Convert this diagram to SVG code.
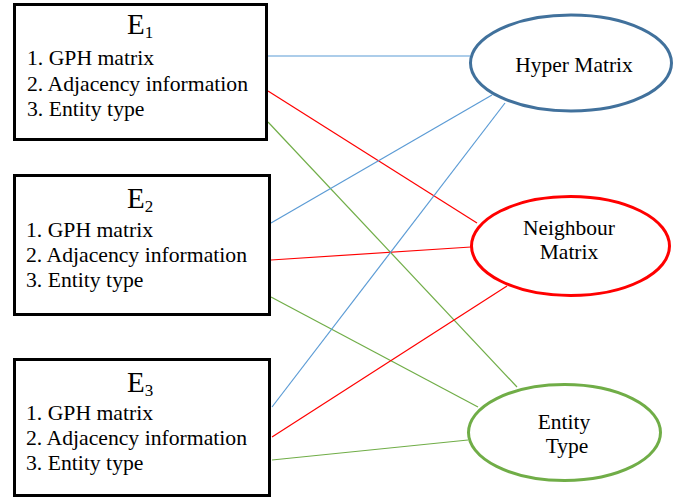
<svg xmlns="http://www.w3.org/2000/svg" width="675" height="501" viewBox="0 0 675 501">
<style>
.box{fill:#fff;stroke:#000;stroke-width:3}
.t{font-family:"Liberation Serif","Times New Roman",serif;fill:#000}
.title{font-size:29px}
.sub{font-size:17px}
.item{font-size:21.7px}
.lbl{font-size:21.5px;text-anchor:middle}
.ell{fill:#fff;stroke-width:3}
.c{fill:none;stroke-width:1.2}
.blue{stroke:#5B9BD5}
.red{stroke:#FF0000}
.green{stroke:#70AD47}
</style>
<rect width="675" height="501" fill="#fff"/>
<g id="connectors">
<line class="c blue" x1="268" y1="56" x2="470" y2="56"/>
<line class="c red" x1="268" y1="91" x2="477" y2="223"/>
<line class="c green" x1="268" y1="122" x2="517" y2="387"/>
<line class="c blue" x1="271" y1="223" x2="492" y2="95"/>
<line class="c red" x1="271" y1="260" x2="471" y2="247"/>
<line class="c green" x1="271" y1="297" x2="478" y2="407"/>
<line class="c blue" x1="272" y1="407" x2="505" y2="103"/>
<line class="c red" x1="272" y1="437" x2="507" y2="286"/>
<line class="c green" x1="272" y1="460" x2="468" y2="440"/>
</g>
<g id="E1">
<rect class="box" x="14.5" y="4.5" width="252" height="135"/>
<text class="t title" x="127" y="34">E<tspan class="sub" dy="4">1</tspan></text>
<text class="t item" x="27" y="65">1. GPH matrix</text>
<text class="t item" x="27" y="90.5">2. Adjacency information</text>
<text class="t item" x="27" y="116">3. Entity type</text>
</g>
<g id="E2">
<rect class="box" x="14.5" y="175.5" width="255" height="139"/>
<text class="t title" x="127" y="208">E<tspan class="sub" dy="4">2</tspan></text>
<text class="t item" x="26" y="237">1. GPH matrix</text>
<text class="t item" x="26" y="262">2. Adjacency information</text>
<text class="t item" x="26" y="287">3. Entity type</text>
</g>
<g id="E3">
<rect class="box" x="14.5" y="359.5" width="255" height="136"/>
<text class="t title" x="127" y="392">E<tspan class="sub" dy="4">3</tspan></text>
<text class="t item" x="26" y="420">1. GPH matrix</text>
<text class="t item" x="26" y="445">2. Adjacency information</text>
<text class="t item" x="26" y="470">3. Entity type</text>
</g>
<g id="hyper">
<ellipse class="ell" cx="571" cy="63" rx="100.5" ry="48" stroke="#41719C"/>
<text class="t lbl" x="574" y="72">Hyper Matrix</text>
</g>
<g id="neighbour">
<ellipse class="ell" cx="570.5" cy="246" rx="99" ry="49.5" stroke="#FF0000" stroke-width="3.5"/>
<text class="t lbl" x="569" y="235">Neighbour</text>
<text class="t lbl" x="569" y="259">Matrix</text>
</g>
<g id="entity">
<ellipse class="ell" cx="564.5" cy="432.5" rx="96" ry="48" stroke="#70AD47"/>
<text class="t lbl" x="564" y="429">Entity</text>
<text class="t lbl" x="567" y="453">Type</text>
</g>
</svg>
